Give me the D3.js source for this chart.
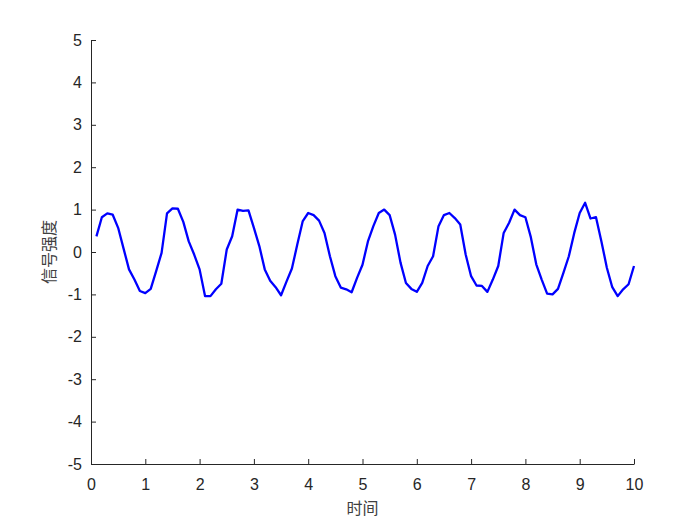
<!DOCTYPE html>
<html>
<head>
<meta charset="utf-8">
<script src="https://cdn.jsdelivr.net/npm/d3@7"></script>
<style>
  body { margin: 0; background: #fff; }
  svg { display: block; }
  .tick text { font-family: "Liberation Sans", Arial, sans-serif; font-size: 16px; fill: #262626; }
  .axis path, .axis line { stroke: #262626; }
  .label { font-family: "Noto Sans CJK SC", sans-serif; font-size: 16px; fill: #404040; }
</style>
</head>
<body>
<div id="chart"></div>
<script>
// time samples 0.1 .. 10 step 0.1
var times = d3.range(1, 101).map(function(k){ return k / 10 })

// signal
var signal = [
  0.37, 0.82, 0.91, 0.88, 0.57, 0.08, -0.41, -0.65, -0.92, -0.97,
  -0.87, -0.45, -0.02, 0.91, 1.03, 1.02, 0.71, 0.25, -0.06, -0.41,
  -1.04, -1.04, -0.88, -0.75, 0.06, 0.37, 1.00, 0.97, 0.98, 0.57,
  0.14, -0.41, -0.68, -0.83, -1.02, -0.70, -0.39, 0.18, 0.73, 0.92,
  0.87, 0.74, 0.45, -0.10, -0.57, -0.84, -0.88, -0.95, -0.61, -0.30,
  0.25, 0.61, 0.92, 1.00, 0.87, 0.41, -0.25, -0.73, -0.87, -0.94,
  -0.73, -0.33, -0.10, 0.61, 0.87, 0.92, 0.80, 0.65, -0.06, -0.57,
  -0.79, -0.80, -0.94, -0.65, -0.33, 0.45, 0.69, 1.00, 0.87, 0.82,
  0.35, -0.29, -0.65, -0.98, -1.00, -0.87, -0.49, -0.10, 0.45, 0.92,
  1.16, 0.79, 0.82, 0.25, -0.37, -0.83, -1.04, -0.88, -0.76, -0.33
]

var xTicks = [0, 1, 2, 3, 4, 5, 6, 7, 8, 9, 10]
var yTicks = [-5, -4, -3, -2, -1, 0, 1, 2, 3, 4, 5]

var data = times.map(function(t, i){ return {t: t, v: signal[i]} })

var W = 700, H = 525
var margin = {left: 91, right: 66, top: 40, bottom: 61}
var width = W - margin.left - margin.right
var height = H - margin.top - margin.bottom

var svg = d3.select('#chart').append('svg')
  .attr('width', W).attr('height', H)

var g = svg.append('g')
  .attr('transform', 'translate(' + margin.left + ',' + margin.top + ')')

var x = d3.scaleLinear().domain([0, 10]).range([0, width])
var y = d3.scaleLinear().domain([-5, 5]).range([height, 0])

// plain hyphen minus like matlab
var fmt = function(d){ return String(d) }

// axes, ticks pointing inward like matlab
var xAxis = g.append('g').attr('class', 'axis')
  .attr('transform', 'translate(0,' + height + ')')
  .call(d3.axisBottom(x).tickValues(xTicks).tickFormat(fmt).tickSize(-5).tickPadding(14).tickSizeOuter(0))
xAxis.selectAll('text').attr('dy', '0.72em')

var yAxis = g.append('g').attr('class', 'axis')
  .call(d3.axisLeft(y).tickValues(yTicks).tickFormat(fmt).tickSize(-5).tickPadding(9).tickSizeOuter(0))

var line = d3.line()
  .x(function(d){ return x(d.t) })
  .y(function(d){ return y(d.v) })

g.append('path')
  .datum(data)
  .attr('d', line)
  .attr('fill', 'none')
  .attr('stroke', '#0000ff')
  .attr('stroke-width', 2.3)
  .attr('stroke-linejoin', 'round')

g.append('text').attr('class', 'label')
  .attr('x', width / 2).attr('y', height + 50)
  .attr('text-anchor', 'middle')
  .text('时间')

g.append('text').attr('class', 'label')
  .attr('transform', 'translate(-36,' + (height / 2) + ') rotate(-90)')
  .attr('text-anchor', 'middle')
  .text('信号强度')
</script>
</body>
</html>
